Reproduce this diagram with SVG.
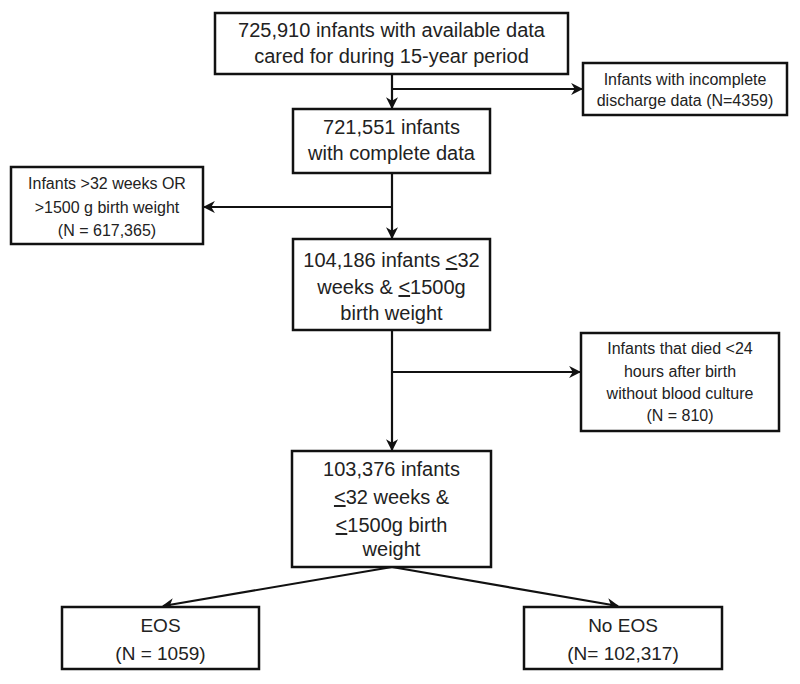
<svg xmlns="http://www.w3.org/2000/svg" width="800" height="684" viewBox="0 0 800 684">
  <defs>
    <marker id="arr" viewBox="0 0 10 10" refX="9" refY="5" markerWidth="5.5" markerHeight="5.5" orient="auto" markerUnits="strokeWidth">
      <path d="M0,0 L10,5 L0,10 L3,5 z" fill="#111"/>
    </marker>
    <style>
      rect.box { fill: #fff; stroke: #111; stroke-width: 2.5; }
      text { font-family: "Liberation Sans", Arial, sans-serif; fill: #222; text-anchor: middle; }
      .big { font-size: 20px; }
      .small { font-size: 16px; }
      .mid { font-size: 19px; }
      .conn line, .conn path { stroke: #111; stroke-width: 2.2; fill: none; }
      .u { text-decoration: underline; }
    </style>
  </defs>
  <rect width="800" height="684" fill="#fff"/>

  <g class="conn" id="connectors">
    <line x1="392" y1="74" x2="392" y2="108" marker-end="url(#arr)"/>
    <line x1="392" y1="89" x2="582" y2="89" marker-end="url(#arr)"/>
    <line x1="392" y1="173" x2="392" y2="238" marker-end="url(#arr)"/>
    <line x1="392" y1="207" x2="204" y2="207" marker-end="url(#arr)"/>
    <line x1="392" y1="330" x2="392" y2="450" marker-end="url(#arr)"/>
    <line x1="392" y1="372" x2="580" y2="372" marker-end="url(#arr)"/>
    <line x1="392" y1="567" x2="163" y2="606" marker-end="url(#arr)"/>
    <line x1="392" y1="567" x2="618" y2="606" marker-end="url(#arr)"/>
  </g>

  <g id="n1">
    <rect class="box" x="215" y="13" width="353" height="61"/>
    <text class="big" x="391.5" y="37">725,910 infants with available data</text>
    <text class="big" x="391.5" y="63">cared for during 15-year period</text>
  </g>

  <g id="n_incomplete">
    <rect class="box" x="583" y="63" width="204" height="52"/>
    <text class="small" x="685" y="85">Infants with incomplete</text>
    <text class="small" x="685" y="106">discharge data (N=4359)</text>
  </g>

  <g id="n2">
    <rect class="box" x="293" y="109" width="197" height="64"/>
    <text class="big" x="391.5" y="134">721,551 infants</text>
    <text class="big" x="391.5" y="160">with complete data</text>
  </g>

  <g id="n_excluded">
    <rect class="box" x="11" y="167" width="192" height="77"/>
    <text class="small" x="107" y="189">Infants &gt;32 weeks OR</text>
    <text class="small" x="107" y="213">&gt;1500 g birth weight</text>
    <text class="small" x="107" y="236">(N = 617,365)</text>
  </g>

  <g id="n3">
    <rect class="box" x="293" y="239" width="197" height="91"/>
    <text class="big" x="391.5" y="267">104,186 infants <tspan class="u">&lt;</tspan>32</text>
    <text class="big" x="391.5" y="294">weeks &amp; <tspan class="u">&lt;</tspan>1500g</text>
    <text class="big" x="391.5" y="320">birth weight</text>
  </g>

  <g id="n_died">
    <rect class="box" x="581" y="333" width="198" height="98"/>
    <text class="small" x="680" y="354">Infants that died &lt;24</text>
    <text class="small" x="680" y="377">hours after birth</text>
    <text class="small" x="680" y="399">without blood culture</text>
    <text class="small" x="680" y="421">(N = 810)</text>
  </g>

  <g id="n4">
    <rect class="box" x="292" y="451" width="199" height="116"/>
    <text class="big" x="391.5" y="476">103,376 infants</text>
    <text class="big" x="391.5" y="504"><tspan class="u">&lt;</tspan>32 weeks &amp;</text>
    <text class="big" x="391.5" y="532"><tspan class="u">&lt;</tspan>1500g birth</text>
    <text class="big" x="391.5" y="556">weight</text>
  </g>

  <g id="n_eos">
    <rect class="box" x="62" y="607" width="197" height="62"/>
    <text class="mid" x="160.5" y="632">EOS</text>
    <text class="mid" x="160.5" y="660">(N = 1059)</text>
  </g>

  <g id="n_noeos">
    <rect class="box" x="524" y="607" width="198" height="62"/>
    <text class="mid" x="623" y="632">No EOS</text>
    <text class="mid" x="623" y="660">(N= 102,317)</text>
  </g>
</svg>
